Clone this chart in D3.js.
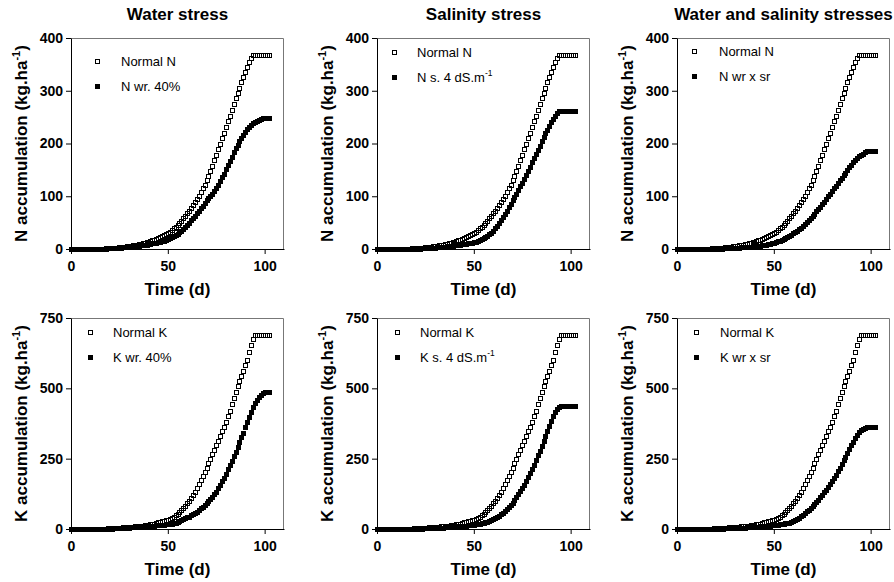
<!DOCTYPE html>
<html>
<head>
<meta charset="utf-8">
<script src="https://cdn.jsdelivr.net/npm/d3@7.9.0/dist/d3.min.js"></script>
<style>
  body { margin: 0; background: #fff; }
  svg { display: block; }
  text { font-family: "Liberation Sans", Arial, sans-serif; fill: #000; }
  .mk { shape-rendering: crispEdges; }
</style>
</head>
<body>
<svg id="chart" width="894" height="582"></svg>
<script>
// daily samples, day 0 to day 102
const days = d3.range(0, 103);

// N accumulation (kg/ha)
const normalN = [0,0,0,0,0,0.1,0.1,0.1,0.2,0.2,0.3,0.3,0.4,0.5,0.6,0.7,0.8,0.9,1.1,1.3,1.5,
  1.7,2.0,2.3,2.6,3.0,3.4,3.8,4.3,4.8,5.4,
  6.0,6.7,7.4,8.2,9.0,9.9,10.8,11.8,12.9,14.0,
  15.2,16.5,17.9,19.4,21.0,22.6,24.3,26.1,28.0,30.0,
  32.5,35.5,39,42.5,46,50,54,58.5,63,67.5,
  72,77,83,89,95,101,108,115,122,130,
  139,148,158,168,178,189,199,210,220,231,
  242,253,264,275,286,296,306,316,326,336,
  345,354,362,367,
  368,368,368,368,368,368,368,368];
const nWater = [0,0,0,0,0,0,0.1,0.1,0.1,0.2,0.2,0.3,0.3,0.4,0.5,0.5,0.6,0.7,0.8,1.0,1.2,
  1.4,1.6,1.8,2.1,2.4,2.7,3.0,3.4,3.8,4.2,
  4.5,4.9,5.3,5.8,6.3,6.8,7.3,7.9,8.5,9.1,
  9.8,10.5,11.3,12.1,13.0,13.9,14.9,16.0,17.3,18.8,
  20.5,22.3,24.3,26.5,29,31.8,34.8,38,41.5,45.5,
  50,54.5,59,63.5,68,72.5,77,82,87,92,
  96,100,105,110,116,122,129,136,143,151,
  159,167,175,183,191,198,205,211,217,222,
  227,231,235,238,241,243,245,247,
  249,249,249,249];
const nSalinity = [0,0,0,0,0,0,0,0.1,0.1,0.1,0.1,0.2,0.2,0.2,0.3,0.3,0.4,0.4,0.5,0.6,0.7,
  0.8,0.9,1.0,1.2,1.4,1.6,1.8,2.1,2.4,2.8,
  3.2,3.5,3.8,4.1,4.5,4.9,5.3,5.8,6.3,6.8,
  7.3,7.8,8.3,8.9,9.5,10.1,10.8,11.5,12.2,13.0,
  14,15.2,16.6,18.2,20,22,24.5,27.5,31,35,
  39.5,44,49,54.5,60,66,72.5,79,85.5,92,
  98.5,105,112,119,126,133,140,148,156,164,
  172,180,188,196,204,212,219,226,233,240,
  247,253,258,
  262,262,262,262,262,262,262,262,262];
const nCombined = [0,0,0,0,0,0,0,0,0.1,0.1,0.1,0.1,0.2,0.2,0.2,0.3,0.3,0.4,0.4,0.5,0.6,
  0.7,0.8,0.9,1.0,1.2,1.4,1.6,1.8,2.0,2.3,
  2.5,2.7,2.9,3.1,3.3,3.6,3.9,4.2,4.5,4.9,
  5.3,5.8,6.3,6.9,7.5,8.2,9.0,9.9,10.9,12.0,
  13.2,14.5,16,17.6,19.3,21.1,23,25,27.2,29.5,
  32,34.7,37.6,40.7,44,47.5,51.2,55,59,63,
  67.2,71.5,76,80.5,85,90,95,100,105,110,
  115,120,125,130,135,140,145,150,155,159.5,
  164,168,172,175.5,178.5,181,183,185,
  186,186,186,186];

// K accumulation (kg/ha)
const normalK = [0,0,0,0,0,0.1,0.1,0.2,0.2,0.3,0.4,0.5,0.6,0.7,0.8,1.0,1.2,1.4,1.6,1.9,2.2,
  2.5,2.9,3.3,3.8,4.3,4.9,5.5,6.2,6.9,7.4,
  7.8,8.4,9.0,9.7,10.4,11.2,12.0,12.9,13.8,14.8,
  16,17.5,19.5,21.5,23.5,25.5,27.5,29.5,31.5,33.5,
  37,40.5,44,49,55,61,68,75,83,91,
  100,110,121,133,146,160,174,188,202,217,
  233,250,266,282,298,314,330,347,364,382,
  400,421,444,467,488,508,526,544,563,582,
  602,628,654,676,
  688,688,688,688,688,688,688,688];
const kWater = [0,0,0,0,0,0.1,0.1,0.1,0.2,0.2,0.3,0.3,0.4,0.5,0.6,0.7,0.8,1.0,1.1,1.3,1.5,
  1.7,2.0,2.3,2.6,2.9,3.3,3.7,4.1,4.6,5.1,
  5.6,6.1,6.6,7.1,7.6,8.1,8.6,9.1,9.6,10.1,
  10.7,11.3,11.9,12.5,13.2,13.9,14.6,15.3,16.1,17,
  18,19.5,21,23,25.5,28,31,34,37.5,41,
  44,48,52,57,62,67.5,73,79,85,91,
  98,106,114,123,133,144,156,169,183,197,
  212,227,242,258,275,292,309,326,343,361,
  379,397,415,432,447,460,470,478,
  484,486,486,486];
const kSalinity = [0,0,0,0,0,0,0.1,0.1,0.1,0.2,0.2,0.3,0.3,0.4,0.4,0.5,0.6,0.7,0.8,0.9,1.0,
  1.2,1.4,1.6,1.8,2.0,2.3,2.6,2.9,3.2,3.6,
  4.0,4.4,4.8,5.2,5.7,6.2,6.7,7.2,7.8,8.4,
  9.0,9.6,10.2,10.8,11.5,12.2,12.9,13.7,14.5,15.4,
  16.4,17.5,18.7,20,21.5,23.5,26,29,32,35.5,
  39,43,47.5,52.5,58,64,71,78,85,93,
  102,112,123,134,146,158,171,185,199,214,
  229,245,262,279,296,313,330,348,366,384,
  400,415,427,434,437,
  438,438,438,438,438,438,438];
const kCombined = [0,0,0,0,0,0,0.1,0.1,0.1,0.1,0.2,0.2,0.3,0.3,0.4,0.4,0.5,0.6,0.7,0.8,0.9,
  1.0,1.2,1.4,1.6,1.8,2.0,2.3,2.6,2.9,3.2,
  3.5,3.9,4.3,4.7,5.1,5.5,6.0,6.5,7.0,7.5,
  8.0,8.5,9.0,9.6,10.2,10.8,11.4,12.0,12.7,13.4,
  14.2,15.1,16.1,17.2,18.4,19.7,21.2,23,25.5,28.5,
  32,36,40.5,45.5,51,57,63,69,75.5,82,
  89,96.5,104,112,121,130,139,149,159,170,
  181,193,205,218,231,244,257,270,284,298,
  311,323,334,344,352,357,360,
  362,362,362,362,362];

const titles = ['Water stress', 'Salinity stress', 'Water and salinity stresses'];
const xTicks = [0, 50, 100];
const nTicks = [0, 100, 200, 300, 400];
const kTicks = [0, 250, 500, 750];

// legend labels: [main text, superscript]
const panels = [
  { col: 0, row: 0, normal: normalN, stress: nWater, yMax: 400, ticks: nTicks, el: 'N',
    labels: [['Normal N', ''], ['N wr. 40%', '']], leg: [26, 23, 50] },
  { col: 1, row: 0, normal: normalN, stress: nSalinity, yMax: 400, ticks: nTicks, el: 'N',
    labels: [['Normal N', ''], ['N s. 4 dS.m', '-1']], leg: [17, 14, 40] },
  { col: 2, row: 0, normal: normalN, stress: nCombined, yMax: 400, ticks: nTicks, el: 'N',
    labels: [['Normal N', ''], ['N wr x sr', '']], leg: [17, 13, 42] },
  { col: 0, row: 1, normal: normalK, stress: kWater, yMax: 750, ticks: kTicks, el: 'K',
    labels: [['Normal K', ''], ['K wr. 40%', '']], leg: [19, 14, 42] },
  { col: 1, row: 1, normal: normalK, stress: kSalinity, yMax: 750, ticks: kTicks, el: 'K',
    labels: [['Normal K', ''], ['K s. 4 dS.m', '-1']], leg: [20, 14, 43] },
  { col: 2, row: 1, normal: normalK, stress: kCombined, yMax: 750, ticks: kTicks, el: 'K',
    labels: [['Normal K', ''], ['K wr x sr', '']], leg: [19, 14, 43] },
];

const lefts = [71, 377, 677];
const tops = [38, 318];
const W = 213, H = 211;

const svg = d3.select('#chart');

// column titles
titles.forEach((t, i) => {
  svg.append('text')
    .attr('x', lefts[i] + W / 2)
    .attr('y', 20)
    .attr('text-anchor', 'middle')
    .style('font-size', '17px')
    .style('font-weight', 'bold')
    .text(t);
});

function addLabel(sel, main, sup, size) {
  sel.append('tspan').text(main);
  if (sup) {
    sel.append('tspan').attr('dy', -size * 0.4).style('font-size', (size * 0.65) + 'px').text(sup);
  }
}

panels.forEach(p => {
  const left = lefts[p.col], top = tops[p.row];
  const x = d3.scaleLinear().domain([0, 110]).range([left, left + W]);
  const y = d3.scaleLinear().domain([0, p.yMax]).range([top + H, top]);
  const g = svg.append('g');

  // light frame on top and right
  g.append('path')
    .attr('d', `M${x(0)},${y(p.yMax) + 0.5}H${x(110) - 0.5}V${y(0)}`)
    .attr('fill', 'none')
    .attr('stroke', '#777')
    .attr('stroke-width', 1);

  // stressed series (filled squares)
  g.append('g').attr('class', 'mk').selectAll('rect')
    .data(days)
    .join('rect')
    .attr('x', d => Math.round(x(d)) - 2.5)
    .attr('y', d => Math.round(y(p.stress[d])) - 2.5)
    .attr('width', 5)
    .attr('height', 5)
    .attr('fill', '#000');

  // normal series (open squares)
  g.append('g').attr('class', 'mk').selectAll('rect')
    .data(days)
    .join('rect')
    .attr('x', d => Math.round(x(d)) - 2)
    .attr('y', d => Math.round(y(p.normal[d])) - 2)
    .attr('width', 4)
    .attr('height', 4)
    .attr('fill', 'none')
    .attr('stroke', '#000')
    .attr('stroke-width', 1);

  // axes
  const xAxis = g.append('g')
    .attr('transform', `translate(0,${y(0)})`)
    .call(d3.axisBottom(x).tickValues(xTicks).tickSize(5).tickSizeOuter(0).tickPadding(7));
  const yAxis = g.append('g')
    .attr('transform', `translate(${x(0)},0)`)
    .call(d3.axisLeft(y).tickValues(p.ticks).tickSize(5).tickSizeOuter(0).tickPadding(3));
  [xAxis, yAxis].forEach(a => {
    a.selectAll('text').style('font-size', '14px').style('font-weight', 'bold')
      .style('font-family', '"Liberation Sans", Arial, sans-serif').attr('fill', '#000');
    a.selectAll('path, line').attr('stroke', '#000');
  });

  // axis titles
  g.append('text')
    .attr('x', left + W / 2)
    .attr('y', y(0) + 46)
    .attr('text-anchor', 'middle')
    .style('font-size', '17px')
    .style('font-weight', 'bold')
    .text('Time (d)');

  const yl = g.append('text')
    .attr('transform', `translate(${left - 44},${top + H / 2}) rotate(-90)`)
    .attr('text-anchor', 'middle')
    .style('font-size', '17px')
    .style('font-weight', 'bold');
  yl.append('tspan').text(`${p.el} accumulation (kg.ha`);
  yl.append('tspan').attr('dy', -7).style('font-size', '11px').text('-1');
  yl.append('tspan').attr('dy', 7).text(')');

  // legend
  const [mx, my, tx] = p.leg;
  p.labels.forEach((lab, i) => {
    const cy = Math.round(top + my + i * 24.5);
    g.append('rect')
      .attr('class', 'mk')
      .attr('x', left + mx - (i === 0 ? 2 : 2.5))
      .attr('y', cy - (i === 0 ? 2 : 2.5))
      .attr('width', i === 0 ? 4 : 5)
      .attr('height', i === 0 ? 4 : 5)
      .attr('fill', i === 0 ? 'none' : '#000')
      .attr('stroke', i === 0 ? '#000' : 'none');
    const t = g.append('text')
      .attr('x', left + tx)
      .attr('y', cy + 4.5)
      .style('font-size', '13px');
    addLabel(t, lab[0], lab[1], 13);
  });
});
</script>
</body>
</html>
